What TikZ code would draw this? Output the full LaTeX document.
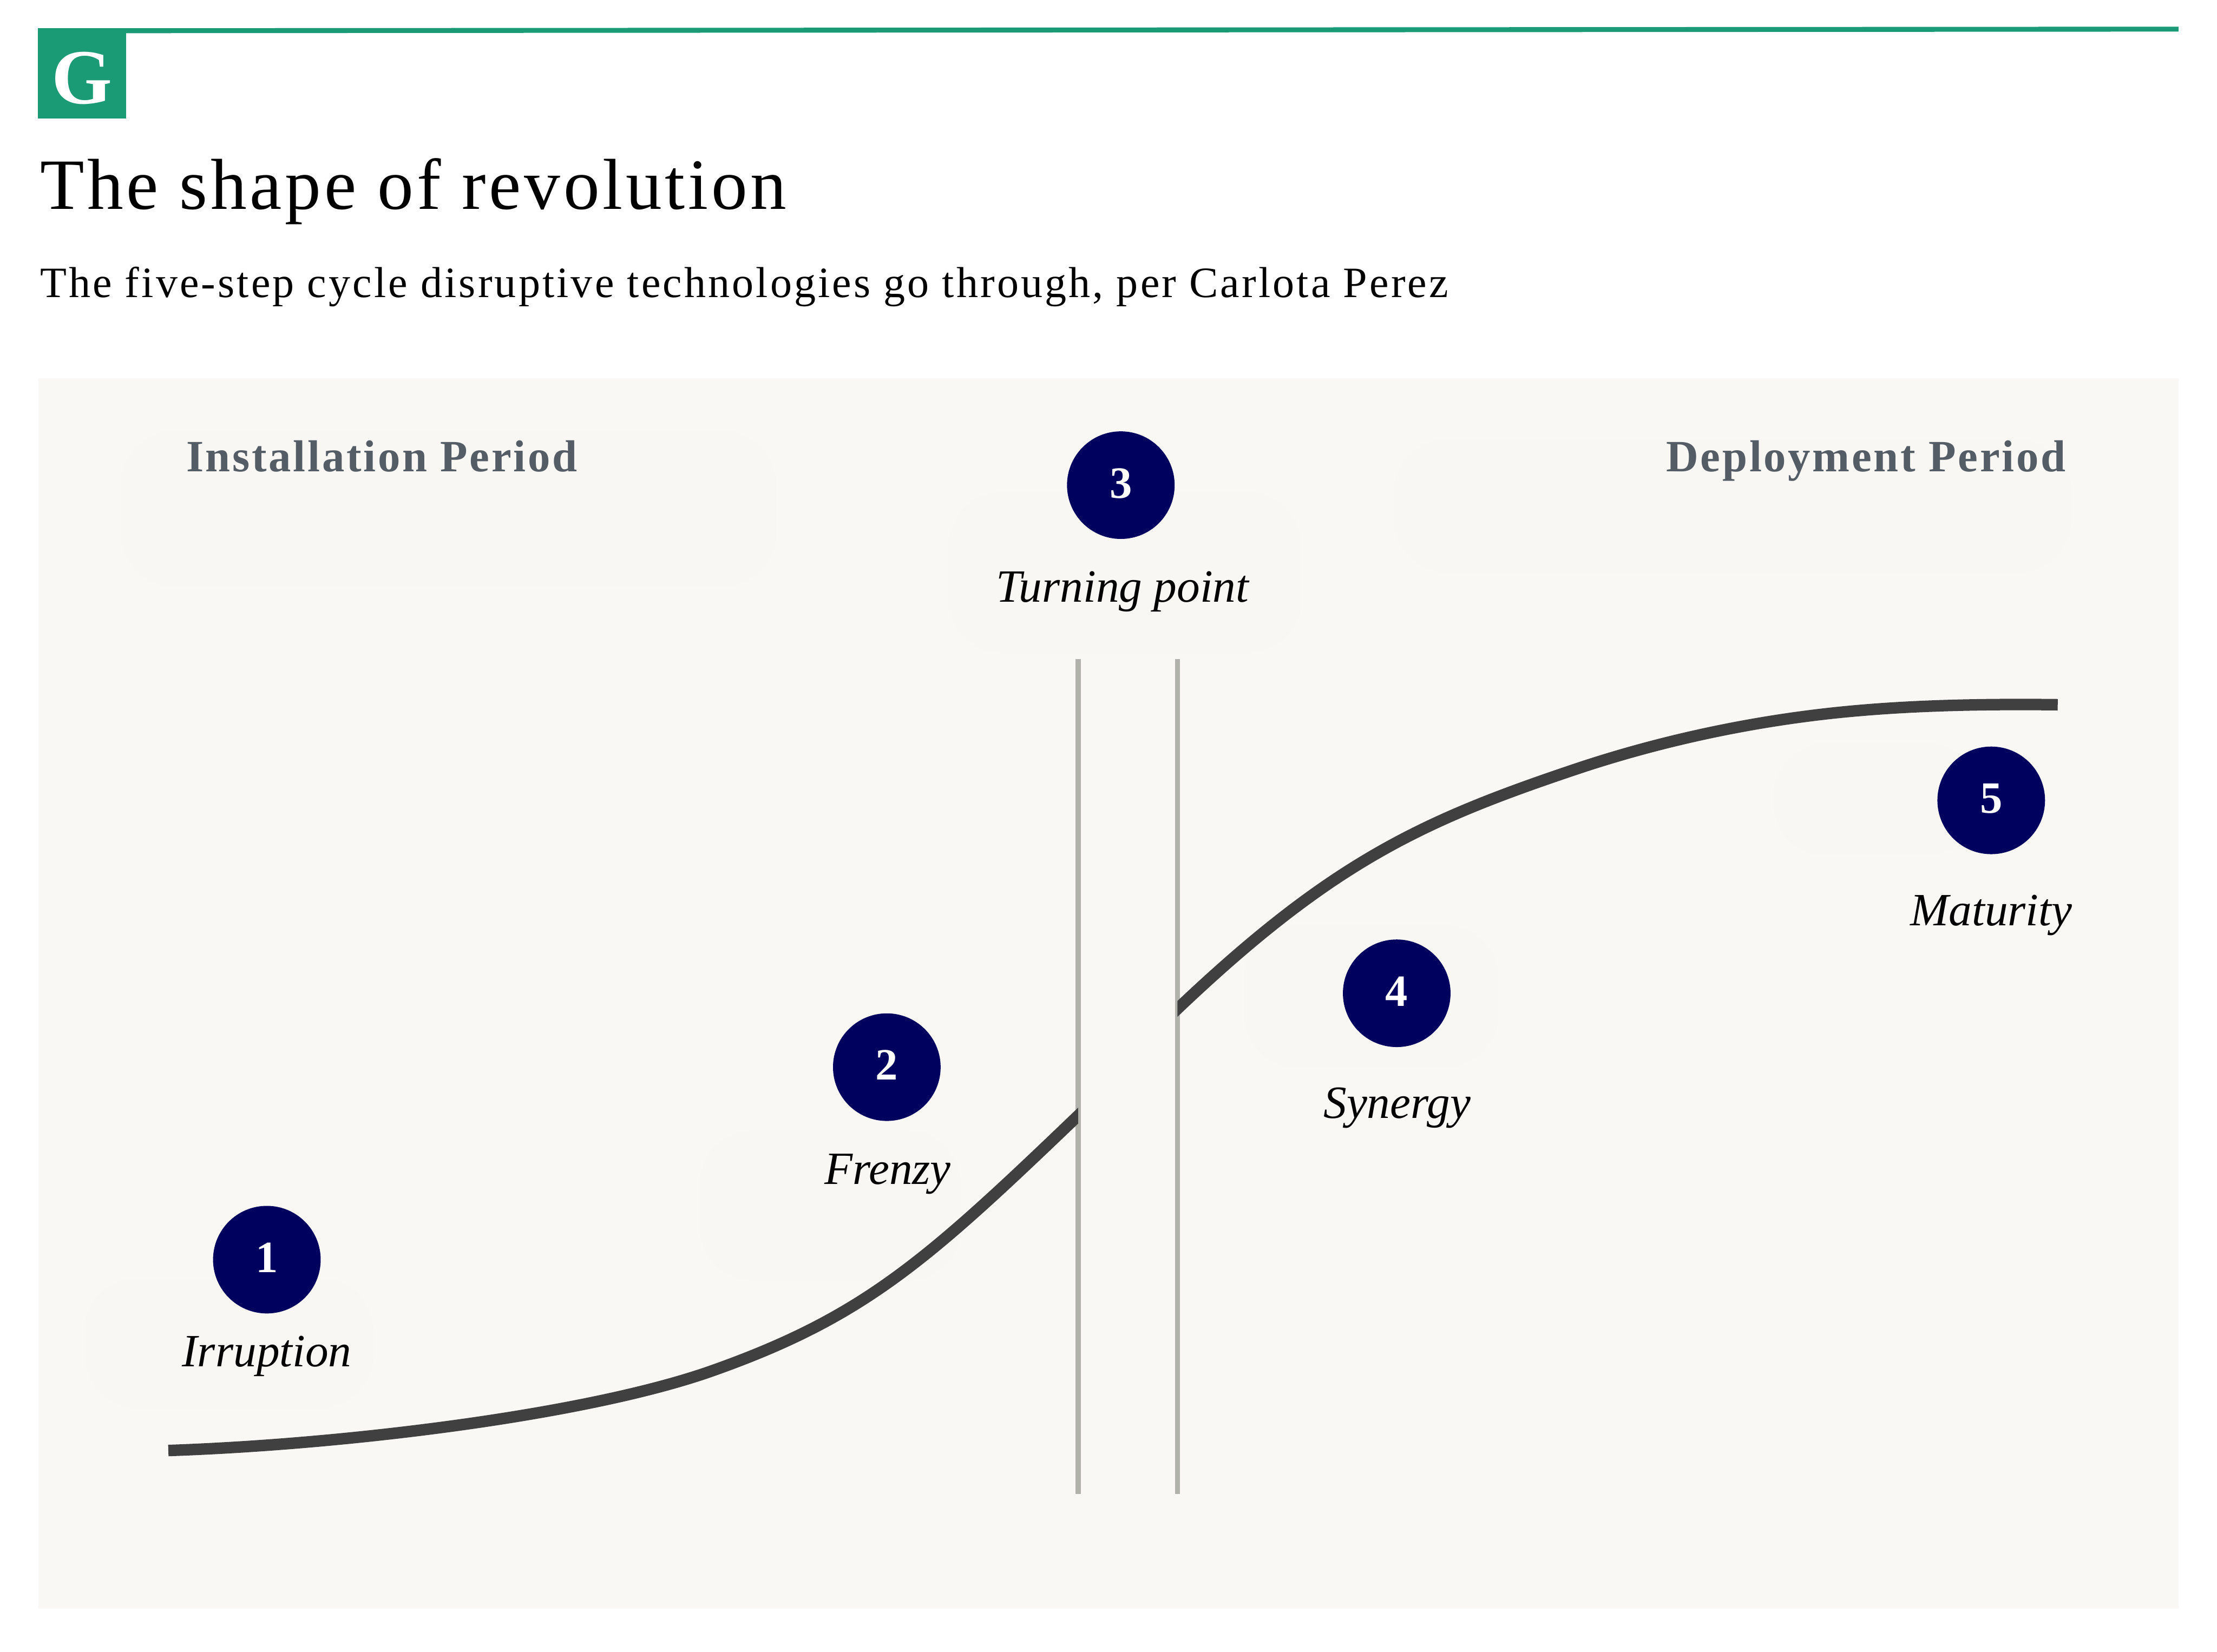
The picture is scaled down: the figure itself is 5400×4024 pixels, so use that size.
\documentclass[tikz,border=0pt]{standalone}
\usepackage{fontspec}
\usepackage{xcolor}
\setmainfont{Liberation Serif}
\newfontfamily\headfont[LetterSpace=4.3]{Liberation Serif}
\newfontfamily\subfont[LetterSpace=5.15]{Liberation Serif}
\newfontfamily\periodfont[LetterSpace=4.5]{Liberation Serif}
\definecolor{brandgreen}{HTML}{1A9B75}
\definecolor{stepnavy}{HTML}{00005F}
\definecolor{panelbg}{HTML}{F9F8F5}
\definecolor{smudge}{HTML}{F8F7F4}
\definecolor{periodgray}{HTML}{545D66}
\definecolor{curvegray}{HTML}{404040}
\definecolor{bargray}{HTML}{B2B2AC}
\tikzset{
    stepdot/.style={circle, fill=stepnavy, text=white, minimum size=2.62cm, inner sep=0pt, text depth=0.1cm, font=\fontsize{31}{31}\selectfont\bfseries},
    steplabel/.style={anchor=base, inner sep=0pt, font=\fontsize{32}{32}\selectfont\itshape},
    periodlabel/.style={anchor=base west, inner sep=0pt, text=periodgray, font=\periodfont\fontsize{31}{31}\selectfont\bfseries},
    curveline/.style={curvegray, line width=0.28cm},
    barline/.style={bargray, line width=0.13cm}
}

\begin{document}
\begin{tikzpicture}[x=0.01cm, y=-0.01cm]
    \useasboundingbox (0,0) rectangle (5400,4024);

    % Logo and top rule
    \fill[brandgreen] (93,69) -- (5306,65) -- (5306,77) -- (93,81) -- cycle;
    \node[rectangle, fill=brandgreen, text=white, minimum width=2.14cm, minimum height=2.2cm, inner sep=0pt, text height=1.48cm, font=\fontsize{54}{54}\selectfont\bfseries] (logo) at (200,179) {G};

    % Headings
    \node[anchor=base west, inner sep=0pt, font=\headfont\fontsize{50}{50}\selectfont] (title) at (97,509) {The shape of revolution};
    \node[anchor=base west, inner sep=0pt, font=\subfont\fontsize{30}{30}\selectfont] (subtitle) at (97,724) {The five-step cycle disruptive technologies go through, per Carlota Perez};

    % Panel
    \fill[panelbg] (93,922) rectangle (5306,3920);
    \foreach \xa/\ya/\xb/\yb in {295/1050/1890/1430, 2310/1200/3170/1590, 3395/1070/5045/1395, 4320/1810/4820/2085, 3030/2255/3650/2600, 1705/2755/2340/3120, 205/3115/910/3430}
        \fill[smudge, rounded corners=1.3cm] (\xa,\ya) rectangle (\xb,\yb);

    % Period names
    \node[periodlabel] (install) at (453,1149) {Installation Period};
    \node[periodlabel] (deploy) at (4058,1149) {Deployment Period};

    % Turning point bars
    \coordinate (barAtop) at (2626,1606);
    \coordinate (barAbot) at (2626,3640);
    \coordinate (barBtop) at (2868,1606);
    \coordinate (barBbot) at (2868,3640);
    \draw[barline] (barAtop) -- (barAbot);
    \draw[barline] (barBtop) -- (barBbot);

    % S-curve, cut off at the bars
    \begin{scope}
        \clip (300,2400) rectangle (2626,3700);
        \draw[curveline] (410,3534) .. controls (850,3519) and (1434,3446) .. (1734,3340) .. controls (2104,3209) and (2256,3073) .. (2626,2718) -- (2700,2647);
    \end{scope}
    \begin{scope}
        \clip (2868,1500) rectangle (5200,2600);
        \draw[curveline] (2800,2522) -- (2869,2457) .. controls (3249,2096) and (3470,1997) .. (3850,1870) .. controls (4050,1804) and (4258,1760) .. (4458,1738) .. controls (4640,1718) and (4830,1715) .. (5012,1717);
    \end{scope}

    % Steps
    \node[stepdot] (stepone) at (650,3069) {1};
    \node[stepdot] (steptwo) at (2160,2600) {2};
    \node[stepdot] (stepthree) at (2730,1182) {3};
    \node[stepdot] (stepfour) at (3402,2420) {4};
    \node[stepdot] (stepfive) at (4850,1950) {5};
    \node[steplabel] (irruption) at (650,3329) {Irruption};
    \node[steplabel] (frenzy) at (2162,2885) {Frenzy};
    \node[steplabel] (turning) at (2734,1467) {Turning point};
    \node[steplabel] (synergy) at (3403,2725) {Synergy};
    \node[steplabel] (maturity) at (4850,2255) {Maturity};
\end{tikzpicture}
\end{document}
